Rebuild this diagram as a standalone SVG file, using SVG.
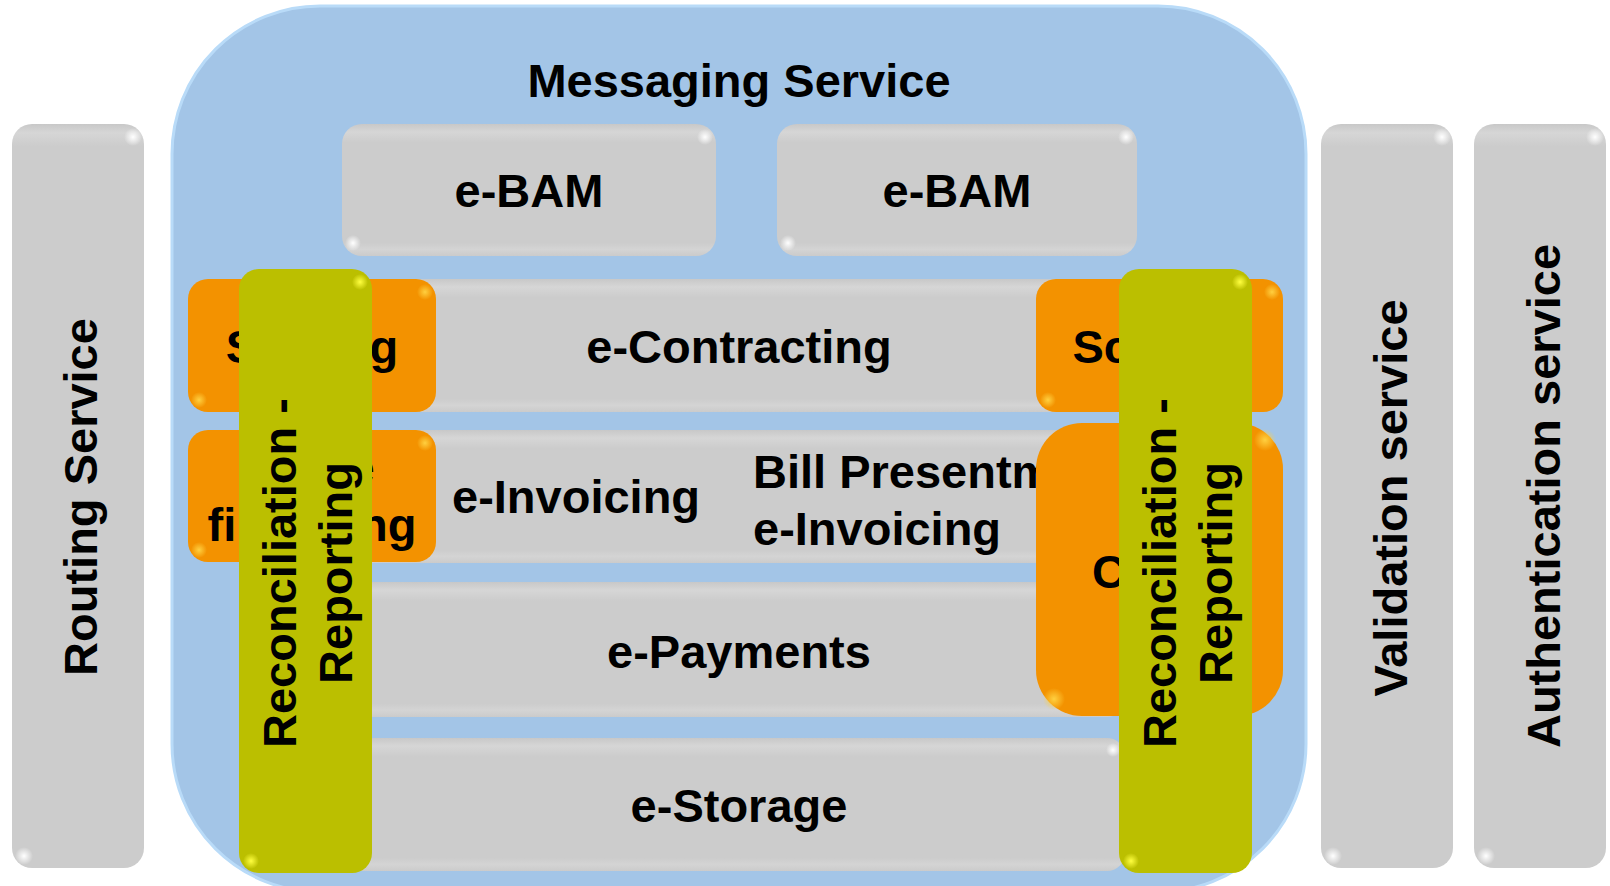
<svg xmlns="http://www.w3.org/2000/svg" width="1610" height="886" viewBox="0 0 1610 886">
<defs>
<radialGradient id="hw"><stop offset="0" stop-color="#ffffff" stop-opacity="1"/><stop offset="1" stop-color="#ffffff" stop-opacity="0"/></radialGradient>
<radialGradient id="hy"><stop offset="0" stop-color="#ffff40" stop-opacity="1"/><stop offset="1" stop-color="#ffff40" stop-opacity="0"/></radialGradient>
<radialGradient id="ho"><stop offset="0" stop-color="#ffd040" stop-opacity="1"/><stop offset="1" stop-color="#ffd040" stop-opacity="0"/></radialGradient>
<linearGradient id="gg" x1="0" y1="0" x2="0" y2="1"><stop offset="0" stop-color="#c8c8c8"/><stop offset="0.06" stop-color="#d6d6d6"/><stop offset="0.14" stop-color="#cccccc"/><stop offset="0.9" stop-color="#cccccc"/><stop offset="0.95" stop-color="#d4d4d4"/><stop offset="1" stop-color="#cbcbcb"/></linearGradient>
<linearGradient id="gt" x1="0" y1="0" x2="0" y2="1"><stop offset="0" stop-color="#c8c8c8"/><stop offset="0.012" stop-color="#d6d6d6"/><stop offset="0.03" stop-color="#cccccc"/><stop offset="1" stop-color="#cccccc"/></linearGradient>
</defs>
<style>
.t{font-family:"Liberation Sans",Arial,sans-serif;font-weight:bold;font-size:47px;fill:#000}
.m{text-anchor:middle}
.grey{fill:url(#gg)}
.tall{fill:url(#gt)}
.org{fill:#f39200}
.yel{fill:#bbbf00}
</style>
<g id="routing-service">
<rect class="tall" x="12" y="124" width="132" height="744" rx="20"/>
<circle cx="133" cy="137" r="9" fill="url(#hw)"/><circle cx="24" cy="856" r="9" fill="url(#hw)"/>
<text class="t m" transform="translate(97,497) rotate(-90)">Routing Service</text>
</g>
<g id="validation-service">
<rect class="tall" x="1321" y="124" width="132" height="744" rx="20"/>
<circle cx="1442" cy="137" r="9" fill="url(#hw)"/><circle cx="1333" cy="856" r="9" fill="url(#hw)"/>
<text class="t m" transform="translate(1407,498) rotate(-90)">Validation service</text>
</g>
<g id="authentication-service">
<rect class="tall" x="1474" y="124" width="132" height="744" rx="20"/>
<circle cx="1595" cy="137" r="9" fill="url(#hw)"/><circle cx="1486" cy="856" r="9" fill="url(#hw)"/>
<text class="t m" transform="translate(1560,496) rotate(-90)">Authentication service</text>
</g>
<g id="messaging-service">
<rect x="172" y="6" width="1134" height="886" rx="148" fill="#a3c5e7" stroke="#b9dbf8" stroke-width="3"/>
<text class="t m" x="739" y="97">Messaging Service</text>
</g>
<g id="e-bam-1">
<rect class="grey" x="342" y="124" width="374" height="132" rx="20"/>
<circle cx="705" cy="137" r="8" fill="url(#hw)"/><circle cx="353" cy="243" r="8" fill="url(#hw)"/>
<text class="t m" x="529" y="207">e-BAM</text>
</g>
<g id="e-bam-2">
<rect class="grey" x="777" y="124" width="360" height="132" rx="20"/>
<circle cx="1126" cy="137" r="8" fill="url(#hw)"/><circle cx="788" cy="243" r="8" fill="url(#hw)"/>
<text class="t m" x="957" y="207">e-BAM</text>
</g>
<g id="e-contracting">
<rect class="grey" x="300" y="279" width="900" height="133" rx="18"/>
<text class="t m" x="739" y="363">e-Contracting</text>
</g>
<g id="e-invoicing">
<rect class="grey" x="300" y="430" width="900" height="133" rx="18"/>
<text class="t" x="452" y="513">e-Invoicing</text>
</g>
<g id="bill-presentment">
<text class="t" x="753" y="488">Bill Presentment</text>
<text class="t" x="753" y="545">e-Invoicing</text>
</g>
<g id="e-payments">
<rect class="grey" x="330" y="582" width="795" height="135" rx="18"/>
<text class="t m" x="739" y="668">e-Payments</text>
</g>
<g id="e-storage">
<rect class="grey" x="330" y="738" width="795" height="133" rx="18"/>
<circle cx="1113" cy="750" r="7" fill="url(#hw)"/>
<text class="t m" x="739" y="822">e-Storage</text>
</g>
<g id="signing">
<rect class="org" x="188" y="279" width="248" height="133" rx="20"/>
<circle cx="425" cy="292" r="8" fill="url(#ho)"/><circle cx="199" cy="400" r="8" fill="url(#ho)"/>
<text class="t m" x="312" y="363">Signing</text>
</g>
<g id="trade-financing">
<rect class="org" x="188" y="430" width="248" height="132" rx="20"/>
<circle cx="425" cy="443" r="8" fill="url(#ho)"/><circle cx="199" cy="550" r="8" fill="url(#ho)"/>
<text class="t m" x="312" y="484">Trade</text>
<text class="t m" x="312" y="541">financing</text>
</g>
<g id="scoring">
<rect class="org" x="1036" y="279" width="247" height="133" rx="20"/>
<circle cx="1272" cy="292" r="8" fill="url(#ho)"/><circle cx="1048" cy="400" r="8" fill="url(#ho)"/>
<text class="t m" x="1160" y="363">Scoring</text>
</g>
<g id="credit">
<rect class="org" x="1036" y="423" width="247" height="293" rx="46"/>
<circle cx="1265" cy="440" r="11" fill="url(#ho)"/><circle cx="1054" cy="699" r="11" fill="url(#ho)"/>
<text class="t m" x="1160" y="588">Credit</text>
</g>
<g id="reconciliation-left">
<rect class="yel" x="239" y="269" width="133" height="604" rx="20"/>
<circle cx="360" cy="282" r="8" fill="url(#hy)"/><circle cx="251" cy="861" r="8" fill="url(#hy)"/>
<text class="t m" transform="translate(296,573) rotate(-90)">Reconciliation -</text>
<text class="t m" transform="translate(352,573) rotate(-90)">Reporting</text>
</g>
<g id="reconciliation-right">
<rect class="yel" x="1119" y="269" width="133" height="604" rx="20"/>
<circle cx="1240" cy="282" r="8" fill="url(#hy)"/><circle cx="1131" cy="861" r="8" fill="url(#hy)"/>
<text class="t m" transform="translate(1176,573) rotate(-90)">Reconciliation -</text>
<text class="t m" transform="translate(1232,573) rotate(-90)">Reporting</text>
</g>
<g id="connectors"/>
</svg>
